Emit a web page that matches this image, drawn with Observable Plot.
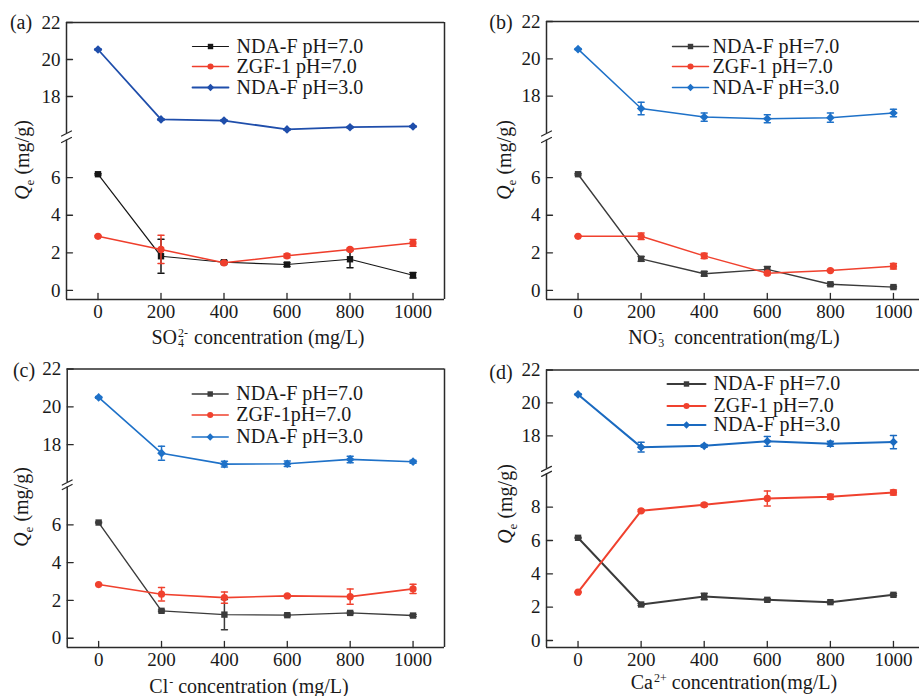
<!DOCTYPE html>
<html><head><meta charset="utf-8">
<script src="https://cdn.jsdelivr.net/npm/d3@7"></script>
<script src="https://cdn.jsdelivr.net/npm/@observablehq/plot@0.6"></script>
<style>
html,body{margin:0;padding:0;background:#fff;overflow:hidden}
#root{position:relative;width:919px;height:696px;overflow:hidden;font-family:"Liberation Serif","Times New Roman",serif;color:#1a1a1a}
.panel{position:absolute}
.lbl{position:absolute;font-size:20px;white-space:nowrap;line-height:20px;transform:translate(-50%,-50%)}
.ylab{transform:translate(-50%,-50%) rotate(-90deg)}
.st{display:inline-block;position:relative;width:13px;height:20px;vertical-align:baseline;margin-right:4px}
.st .u{position:absolute;left:1px;top:3px;font-size:12px;line-height:12px}
.st .d{position:absolute;left:1px;top:13px;font-size:12px;line-height:12px}
.sp{font-size:12px;position:relative;top:-7px;margin-left:1px}
.sb{font-size:13px;position:relative;top:5px}
</style>
</head><body>
<div id="root"></div>
<script>
// ---------- data ----------
const conc = [0, 200, 400, 600, 800, 1000];
const xTicks = [0, 200, 400, 600, 800, 1000];
const yTicksABC = [0, 2, 4, 6, 18, 20, 22];
const yTicksD = [0, 2, 4, 6, 8, 18, 20, 22];
const legendNames = ["NDA-F pH=7.0", "ZGF-1 pH=7.0", "NDA-F pH=3.0"];
const legendNamesC = ["NDA-F pH=7.0", "ZGF-1pH=7.0", "NDA-F pH=3.0"];

// (a) SO4 2-
const soNda7 = [6.18, 1.82, 1.50, 1.38, 1.66, 0.81];
const soNda7Err = [0.04, 0.9, 0.08, 0.1, 0.45, 0.15];
const soZgf = [2.88, 2.18, 1.47, 1.84, 2.18, 2.53];
const soZgfErr = [0.04, 0.75, 0.06, 0.1, 0.06, 0.18];
const soNda3 = [20.54, 16.76, 16.70, 16.22, 16.34, 16.38];
const soNda3Err = [0.04, 0.04, 0.04, 0.04, 0.04, 0.04];
// (b) NO3 -
const noNda7 = [6.18, 1.68, 0.89, 1.12, 0.33, 0.18];
const noNda7Err = [0.04, 0.12, 0.12, 0.15, 0.06, 0.05];
const noZgf = [2.88, 2.88, 1.84, 0.92, 1.06, 1.29];
const noZgfErr = [0.03, 0.17, 0.14, 0.08, 0.05, 0.15];
const noNda3 = [20.52, 17.34, 16.88, 16.79, 16.85, 17.10];
const noNda3Err = [0.04, 0.34, 0.22, 0.22, 0.25, 0.2];
// (c) Cl -
const clNda7 = [6.12, 1.45, 1.25, 1.22, 1.34, 1.20];
const clNda7Err = [0.03, 0.05, 0.8, 0.05, 0.05, 0.05];
const clZgf = [2.84, 2.33, 2.15, 2.24, 2.20, 2.61];
const clZgfErr = [0.03, 0.36, 0.3, 0.05, 0.4, 0.25];
const clNda3 = [20.50, 17.55, 16.97, 16.99, 17.22, 17.10];
const clNda3Err = [0.04, 0.37, 0.15, 0.15, 0.17, 0.08];
// (d) Ca 2+
const caNda7 = [6.16, 2.16, 2.64, 2.44, 2.30, 2.74];
const caNda7Err = [0.03, 0.06, 0.2, 0.06, 0.05, 0.06];
const caZgf = [2.90, 7.78, 8.14, 8.52, 8.62, 8.88];
const caZgfErr = [0.03, 0.06, 0.1, 0.45, 0.15, 0.15];
const caNda3 = [20.52, 17.32, 17.40, 17.67, 17.53, 17.63];
const caNda3Err = [0.04, 0.3, 0.08, 0.3, 0.15, 0.4];

// ---------- drawing ----------
const lineShape = {draw(ctx, l) { ctx.moveTo(0, 0); ctx.lineTo(0, -l); }};
const symbols = ["square", "circle", "diamond2"];
const radii = [3.6, 3.6, 3.9];

const panels = [
  {left: 0, top: 0, width: 460, mL: 66, mR: 16, yD: [-0.48, 8, 16, 22], yR: [299, 139.5, 133, 22], yTicks: yTicksABC,
   series: [[soNda7, soNda7Err], [soZgf, soZgfErr], [soNda3, soNda3Err]], names: legendNames,
   colors: ["#161616", "#ef3e2c", "#1f4eab"], sw: [1.2, 1.5, 1.8], lg: {dx: 144, tdx: 170, dy: [24, 44, 65], len: 36}},
  {left: 460, top: 0, width: 470, mL: 86, mR: 5.5, yD: [-0.48, 8, 16, 22], yR: [299, 139.5, 133, 21], yTicks: yTicksABC,
   series: [[noNda7, noNda7Err], [noZgf, noZgfErr], [noNda3, noNda3Err]], names: legendNames,
   colors: ["#3b3b3b", "#f0412e", "#1e71c8"], sw: [1.4, 1.5, 1.5], lg: {dx: 144, tdx: 166, dy: [25, 45, 66], len: 36}},
  {left: 0, top: 348, width: 460, mL: 66.7, mR: 16, yD: [-0.49, 8, 16, 22], yR: [299, 138.5, 134, 20.5], yTicks: yTicksABC,
   series: [[clNda7, clNda7Err], [clZgf, clZgfErr], [clNda3, clNda3Err]], names: legendNamesC,
   colors: ["#3b3b3b", "#f0412e", "#1e71c8"], sw: [1.4, 1.6, 1.6], lg: {dx: 143, tdx: 169, dy: [25, 46, 68], len: 36}},
  {left: 460, top: 348, width: 470, mL: 86, mR: 5.5, yD: [-0.42, 10, 16, 22], yR: [299, 125.3, 120.4, 21.5], yTicks: yTicksD,
   series: [[caNda7, caNda7Err], [caZgf, caZgfErr], [caNda3, caNda3Err]], names: legendNames,
   colors: ["#3b3b3b", "#f0412e", "#1a6ac0"], sw: [2, 2, 2], lg: {dx: 140, tdx: 167, dy: [14, 36, 55], len: 38}}
];

const root = document.getElementById("root");
const xDomain = [-100, 1100];
const axisColor = "#2a2a2a";
const serif = "'Liberation Serif','Times New Roman',serif";

for (const p of panels) {
  const H = 348;
  const [yLo, lowMax, upMin, yHi] = p.yD;
  const marks = [];
  // frame with break
  marks.push(Plot.ruleY([yHi], {stroke: axisColor, strokeWidth: 1.5}));
  marks.push(Plot.ruleY([yLo], {stroke: axisColor, strokeWidth: 1.5}));
  marks.push(Plot.ruleX([xDomain[1]], {stroke: axisColor, strokeWidth: 1.5}));
  marks.push(Plot.ruleX([xDomain[0]], {y1: yLo, y2: lowMax, stroke: axisColor, strokeWidth: 1.5}));
  marks.push(Plot.ruleX([xDomain[0]], {y1: upMin, y2: yHi, stroke: axisColor, strokeWidth: 1.5}));
  marks.push(Plot.vector([lowMax, upMin], {x: xDomain[0], y: d => d, rotate: 63, length: 11, anchor: "middle", shape: lineShape, stroke: axisColor, strokeWidth: 1.3}));
  // inward ticks
  marks.push(Plot.vector(p.yTicks, {x: xDomain[0], y: d => d, rotate: 90, length: 6, anchor: "start", shape: lineShape, stroke: axisColor, strokeWidth: 1.3}));
  marks.push(Plot.vector(xTicks, {x: d => d, y: yLo, rotate: 0, length: 6, anchor: "start", shape: lineShape, stroke: axisColor, strokeWidth: 1.3}));
  marks.push(Plot.axisY({ticks: p.yTicks, tickSize: 0, tickPadding: 6, label: null, fontSize: 19, fontFamily: serif, anchor: "left", tickFormat: d => String(d)}));
  marks.push(Plot.axisX({ticks: xTicks, tickSize: 0, tickPadding: 5, label: null, fontSize: 19, fontFamily: serif, anchor: "bottom", tickFormat: d => String(d)}));
  // series
  p.series.forEach(([vals, errs], i) => {
    const rows = conc.map((c, j) => ({x: c, y: vals[j], lo: vals[j] - errs[j], hi: vals[j] + errs[j]}));
    const col = p.colors[i];
    marks.push(Plot.line(rows, {x: "x", y: "y", stroke: col, strokeWidth: p.sw[i]}));
    marks.push(Plot.ruleX(rows, {x: "x", y1: "lo", y2: "hi", stroke: col, strokeWidth: 1.5}));
    marks.push(Plot.vector(rows, {x: "x", y: "hi", rotate: 90, length: 6, anchor: "middle", shape: lineShape, stroke: col, strokeWidth: 1.5}));
    marks.push(Plot.vector(rows, {x: "x", y: "lo", rotate: 90, length: 6, anchor: "middle", shape: lineShape, stroke: col, strokeWidth: 1.5}));
    marks.push(Plot.dot(rows, {x: "x", y: "y", symbol: symbols[i], r: radii[i], fill: col, stroke: "none"}));
    // legend
    marks.push(Plot.vector([p.names[i]], {frameAnchor: "top-left", dx: p.lg.dx, dy: p.lg.dy[i], rotate: 90, length: p.lg.len, anchor: "middle", shape: lineShape, stroke: col, strokeWidth: p.sw[i]}));
    marks.push(Plot.dot([p.names[i]], {frameAnchor: "top-left", dx: p.lg.dx, dy: p.lg.dy[i], symbol: symbols[i], r: radii[i] * 0.85, fill: col, stroke: "none"}));
    marks.push(Plot.text([p.names[i]], {frameAnchor: "top-left", dx: p.lg.tdx, dy: p.lg.dy[i], text: d => d, textAnchor: "start", lineAnchor: "middle", fontSize: 20, fontFamily: serif, fill: "#1a1a1a"}));
  });
  const chart = Plot.plot({
    width: p.width, height: H,
    marginLeft: p.mL, marginRight: p.mR, marginTop: p.yR[3], marginBottom: H - p.yR[0],
    x: {domain: xDomain},
    y: {type: "linear", domain: p.yD, range: p.yR},
    style: {fontFamily: serif, fontSize: "19px", color: "#1a1a1a", background: "transparent", maxWidth: "none"},
    marks
  });
  const div = document.createElement("div");
  div.className = "panel";
  div.style.left = p.left + "px"; div.style.top = p.top + "px"; div.style.width = p.width + "px"; div.style.height = H + "px";
  div.appendChild(chart);
  root.appendChild(div);
}

// titles and panel labels
const labels = [
  {x: 21, y: 22, html: "(a)"}, {x: 501, y: 22, html: "(b)"}, {x: 24, y: 370, html: "(c)"}, {x: 501, y: 372, html: "(d)"},
  {x: 258, y: 335, html: 'SO<span class="st"><span class="u">2-</span><span class="d">4</span></span>concentration (mg/L)'},
  {x: 734, y: 335, html: 'NO<span class="st"><span class="u">-</span><span class="d">3</span></span>concentration(mg/L)'},
  {x: 249, y: 687, html: 'Cl<span class="sp">-</span> concentration (mg/L)'},
  {x: 734, y: 683, html: 'Ca<span class="sp">2+</span> concentration(mg/L)'}
];
const ylabels = [{x: 23, y: 160}, {x: 505, y: 160}, {x: 22, y: 507}, {x: 506, y: 504}];
for (const l of labels) {
  const d = document.createElement("div");
  d.className = "lbl"; d.style.left = l.x + "px"; d.style.top = l.y + "px"; d.innerHTML = l.html;
  root.appendChild(d);
}
for (const l of ylabels) {
  const d = document.createElement("div");
  d.className = "lbl ylab"; d.style.left = l.x + "px"; d.style.top = l.y + "px";
  d.innerHTML = '<i>Q</i><span class="sb">e</span> (mg/g)';
  root.appendChild(d);
}
</script>
</body></html>
